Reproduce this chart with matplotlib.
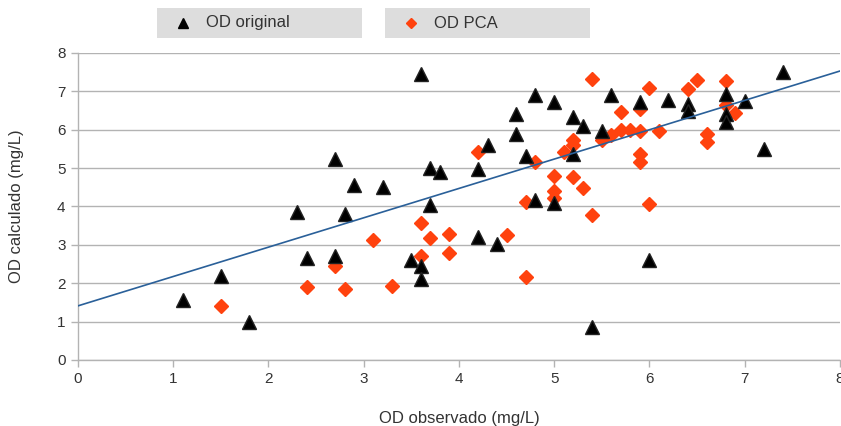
import matplotlib
matplotlib.use("Agg")
import matplotlib.pyplot as plt
from matplotlib.patches import Rectangle
from matplotlib.lines import Line2D
import numpy as np

# Données
orig_x = [1.1, 1.5, 1.8, 2.3, 2.4, 2.7, 2.7, 2.8, 2.9, 3.2, 3.5, 3.6, 3.6, 3.6, 3.7,
          3.7, 3.8, 4.2, 4.2, 4.3, 4.4, 4.6, 4.6, 4.7, 4.8, 4.8, 5.0, 5.0, 5.2, 5.2,
          5.3, 5.4, 5.5, 5.6, 5.9, 6.0, 6.2, 6.4, 6.4, 6.8, 6.8, 6.8, 7.0, 7.2, 7.4]
orig_y = [1.55, 2.2, 1.0, 3.85, 2.65, 5.25, 2.7, 3.8, 4.55, 4.5, 2.6, 7.45, 2.45, 2.1, 5.0,
          4.05, 4.9, 4.97, 3.21, 5.6, 3.02, 6.4, 5.88, 5.31, 6.9, 4.17, 6.72, 4.1, 6.33, 5.36,
          6.1, 0.87, 5.98, 6.9, 6.72, 2.6, 6.78, 6.67, 6.5, 6.92, 6.4, 6.2, 6.76, 5.5, 7.5]

pca_x = [1.5, 2.4, 2.7, 2.8, 3.1, 3.3, 3.6, 3.6, 3.7, 3.9, 3.9, 4.2, 4.5, 4.7, 4.7,
         4.8, 5.0, 5.0, 5.0, 5.1, 5.2, 5.2, 5.2, 5.3, 5.4, 5.4, 5.5, 5.6, 5.7, 5.7,
         5.8, 5.9, 5.9, 5.9, 5.9, 6.0, 6.0, 6.1, 6.4, 6.5, 6.6, 6.6, 6.8, 6.8, 6.9]
pca_y = [1.41, 1.89, 2.46, 1.84, 3.12, 1.93, 3.58, 2.71, 3.17, 3.28, 2.78, 5.43, 3.26, 4.11, 2.15,
         5.17, 4.79, 4.41, 4.23, 5.43, 5.73, 5.6, 4.76, 4.48, 7.33, 3.78, 5.73, 5.85, 6.47, 5.99,
         5.99, 6.53, 5.96, 5.36, 5.17, 7.1, 4.06, 5.98, 7.05, 7.29, 5.9, 5.68, 7.27, 6.64, 6.44]

# Ligne de tendance (linéaire)
trend_slope = 0.765
trend_intercept = 1.41

axis_ticks = [0, 1, 2, 3, 4, 5, 6, 7, 8]

plt.rcParams['font.family'] = ['Liberation Sans', 'DejaVu Sans']

fig = plt.figure(figsize=(8.41, 4.26), dpi=100)
ax = fig.add_axes([0.0927, 0.155, 0.906, 0.7206])

ax.plot(pca_x, pca_y, linestyle='none', marker='D', markersize=7.5,
        color='#ff420e', markeredgecolor='#ff420e', zorder=3)
ax.plot(orig_x, orig_y, linestyle='none', marker='^', markersize=10.5,
        color='black', markeredgecolor='#222222', zorder=4)

tx = np.array([0, 8])
ax.plot(tx, trend_intercept + trend_slope * tx, color='#2a6099', linewidth=1.2, zorder=5)

ax.set_xlim(0, 8)
ax.set_ylim(0, 8)
ax.set_xticks(axis_ticks)
ax.set_yticks(axis_ticks)
ax.grid(True, axis='y', color='#b3b3b3', linewidth=1.0)
ax.set_axisbelow(True)
for s in ['top', 'right']:
    ax.spines[s].set_visible(False)
for s in ['left', 'bottom']:
    ax.spines[s].set_color('#b3b3b3')
    ax.spines[s].set_linewidth(1.0)
ax.tick_params(colors='#b3b3b3', labelcolor='#333333', length=5, width=1.0,
               labelsize=11, pad=4)

ax.set_xlabel("OD observado (mg/L)", fontsize=12, color='#333333', labelpad=18)
ax.set_ylabel("OD calculado (mg/L)", fontsize=12, color='#333333', labelpad=24)

# Légende : deux boîtes grises
boxes = [(157, "OD original", '^', 'black', 7.5), (385, "OD PCA", 'D', '#ff420e', 5.5)]
for x0, label, mk, col, ms in boxes:
    fig.patches.append(Rectangle((x0 / 841, 1 - 38 / 426), 205 / 841, 30 / 426,
                                 transform=fig.transFigure, facecolor='#dddddd',
                                 edgecolor='none'))
    fig.lines.append(Line2D([(x0 + 26) / 841], [1 - 23 / 426], transform=fig.transFigure,
                            marker=mk, markersize=ms, color=col, linestyle='none'))
    fig.text((x0 + 49) / 841, 1 - 23 / 426, label, fontsize=12, color='#333333',
             va='center', ha='left')

plt.savefig("out.png", dpi=100)
